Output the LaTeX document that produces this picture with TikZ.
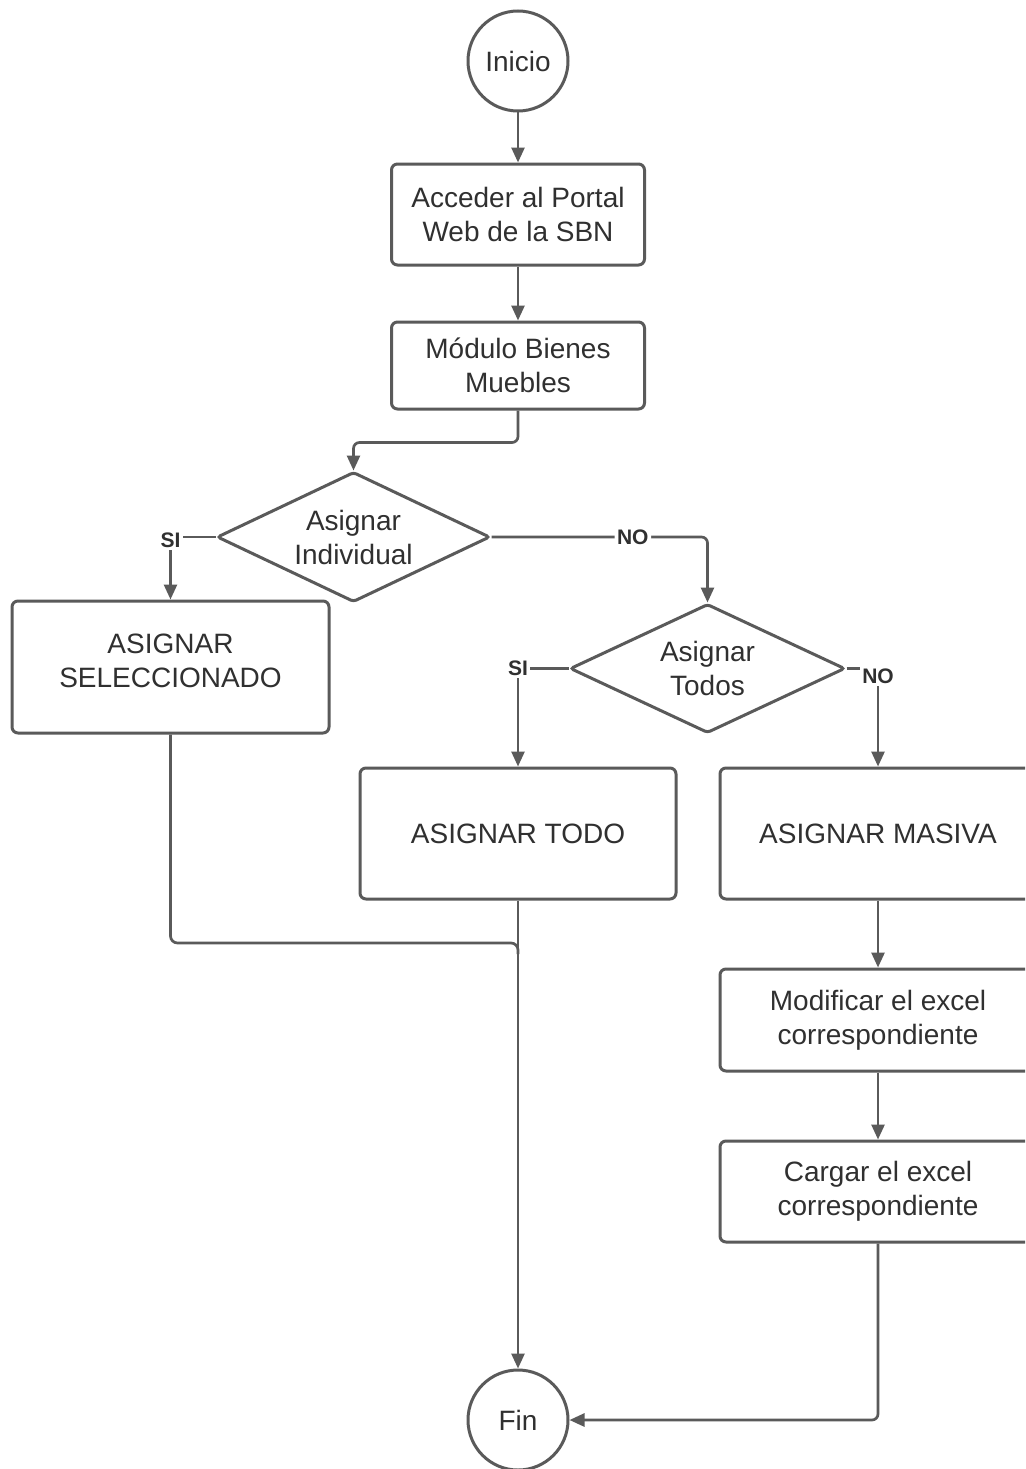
\documentclass[tikz,border=0pt]{standalone}
\usepackage{fontspec}
\setmainfont{Liberation Sans}
\usetikzlibrary{shapes.geometric,arrows.meta}
\definecolor{ln}{HTML}{5A5A5A}
\definecolor{tx}{HTML}{303030}

\begin{document}
\begin{tikzpicture}[x=1pt,y=-1pt,
  every node/.style={text=tx, font=\fontsize{28}{34}\selectfont, align=center, inner sep=0pt},
  proc/.style={draw=ln, line width=3pt, rounded corners=6pt, fill=white},
  term/.style={draw=ln, line width=3pt, circle, minimum size=100pt, fill=white},
  dec/.style={draw=ln, line width=3pt, diamond, aspect=2.1, rounded corners=3pt, fill=white},
  flow/.style={draw=ln, line width=2.7pt, -{Triangle[length=15pt,width=13pt]}},
  link/.style={draw=ln, line width=2.7pt},
  lbl/.style={fill=white, text=tx, font=\fontsize{21}{24}\selectfont\bfseries, inner sep=2.5pt}
]
\path[use as bounding box] (0,0) rectangle (1025,1469);
\clip (0,0) rectangle (1025,1469);
\fill[white] (0,0) rectangle (1025,1469);

% shapes
\node[term] (ini) at (518,61) {Inicio};
\node[proc, minimum width=253pt, minimum height=101pt] (b1) at (518,214.5) {Acceder al Portal\\Web de la SBN};
\node[proc, minimum width=253pt, minimum height=87pt] (b2) at (518,365.5) {Módulo Bienes\\Muebles};
\node[dec, minimum width=273pt, minimum height=130pt] (d1) at (353.5,537) {Asignar\\Individual};
% extra text depth lifts the two lines slightly above the box centre
\node[proc, minimum width=317pt, minimum height=132pt, text depth=12pt] (b3) at (170.5,667) {ASIGNAR\\SELECCIONADO};
\node[dec, minimum width=275pt, minimum height=129pt] (d2) at (707.5,668.5) {Asignar\\Todos};
\node[proc, minimum width=316pt, minimum height=131pt] (b4) at (518,833.5) {ASIGNAR TODO};
\node[proc, minimum width=316pt, minimum height=131pt] (b5) at (878,833.5) {ASIGNAR MASIVA};
\node[proc, minimum width=316pt, minimum height=102pt] (b6) at (878,1020) {Modificar el excel\\correspondiente};
\node[proc, minimum width=316pt, minimum height=101pt] (b7) at (878,1191.5) {Cargar el excel\\correspondiente};
\node[term] (fin) at (518,1420) {Fin};

% connectors
\draw[flow] (ini) -- (b1);
\draw[flow] (b1) -- (b2);
\draw[flow, rounded corners=6pt] (b2.south) -- ++(0,32) -| (d1.north);
\draw[flow] (d1.west) -| node[lbl, pos=0.5, yshift=-3pt] {SI} (b3.north);
\draw[flow, rounded corners=6pt] (d1.east) -| node[lbl, pos=0.327] {NO} (d2.north);
\draw[flow] (d2.west) -| node[lbl, pos=0.5] {SI} (b4.north);
\draw[flow] (d2.east) -| node[lbl, pos=0.5, yshift=-8pt] {NO} (b5.north);
\draw[flow] (b5) -- (b6);
\draw[flow] (b6) -- (b7);
\draw[flow] (b4) -- (fin);
\draw[link, rounded corners=7pt] (b3.south) |- (518,943) -- (518,954);
\draw[flow, rounded corners=6pt] (b7.south) |- (fin.east);
\end{tikzpicture}
\end{document}
